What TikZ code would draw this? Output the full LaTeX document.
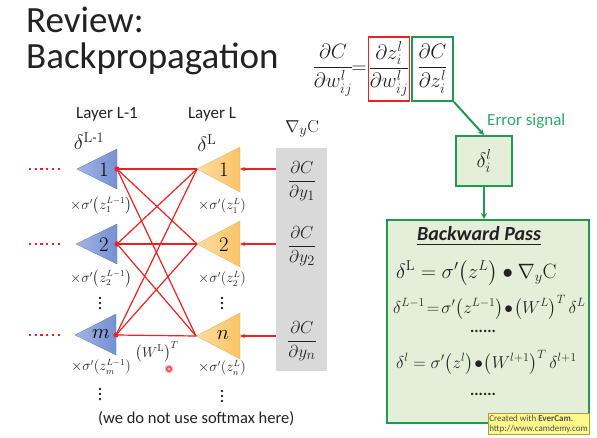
\documentclass[tikz,border=0pt]{standalone}
\usepackage{amsmath}
\usepackage[no-math]{fontspec}
\setmainfont{Carlito}
\usetikzlibrary{arrows.meta}
\definecolor{tblue}{HTML}{7590D2}
\definecolor{tbluel}{HTML}{A3B5E2}
\definecolor{torange}{HTML}{FAC466}
\definecolor{torangel}{HTML}{FEDDA2}
\definecolor{tred}{HTML}{EE2020}
\definecolor{tgreen}{HTML}{1E9A4E}
\definecolor{tgreentxt}{HTML}{2FA86A}
\definecolor{tgreenfill}{HTML}{E3EFD9}
\definecolor{tgray}{HTML}{D9D9D9}
\definecolor{ttext}{HTML}{222222}
\tikzset{
  bluetri/.style={left color=tbluel, right color=tblue, draw=tblue!85!black, line width=0.3pt},
  orangetri/.style={left color=torangel, right color=torange, draw=torange!90!black, line width=0.3pt},
  wire/.style={draw=tred, line width=1.2pt},
  inarrow/.style={draw=tred, line width=1.2pt, -{Stealth[length=5pt,width=4pt]}},
  reddots/.style={draw=tred, line width=2.3pt, dash pattern=on 2.3pt off 3.4pt},
  sig/.style={font=\fontsize{13.5}{15}\selectfont, text=ttext, inner sep=0pt},
  vdot/.style={fill=ttext},
  num/.style={font=\fontsize{22}{22}\selectfont, text=black, inner sep=0pt},
  layerlbl/.style={font=\fontsize{17}{17}\selectfont, text=ttext, inner sep=0pt},
  greenarrow/.style={draw=tgreen, line width=2pt, -{Stealth[length=6pt,width=6pt]}},
  eq/.style={font=\fontsize{19}{22}\selectfont, text=ttext, inner sep=0pt, anchor=west},
}
\begin{document}
\begin{tikzpicture}[x=1pt,y=-1pt]
\useasboundingbox (0,0) rectangle (597,438);
\fill[white] (0,0) rectangle (597,438);

% Title
\node[anchor=base west, inner sep=0pt, font=\fontsize{37}{37}\selectfont, text=ttext] (t1) at (26,33) {Review:};
\node[anchor=base west, inner sep=0pt, font=\fontsize{37}{37}\selectfont, text=ttext] (t2) at (26,69) {Backpropagation};

% Top equation
\node[inner sep=0pt, font=\fontsize{20}{24}\selectfont, text=ttext] (dcdw) at (333,70) {$\dfrac{\partial C}{\partial w_{ij}^{l}}$};
\node[inner sep=0pt, font=\fontsize{20}{24}\selectfont, text=ttext] (eqs) at (359,70) {$=$};
\node[draw=tred, line width=1.5pt, minimum width=38pt, minimum height=64pt, inner sep=0pt, font=\fontsize{20}{24}\selectfont, text=ttext] (redbox) at (389,69) {$\dfrac{\partial z_i^{l}}{\partial w_{ij}^{l}}$};
\node[draw=tgreen, line width=1.8pt, minimum width=41pt, minimum height=64pt, inner sep=0pt, font=\fontsize{20}{24}\selectfont, text=ttext] (greenbox) at (432.5,69) {$\dfrac{\partial C}{\partial z_i^{l}}$};

% Error signal box
\node[draw=tgreen, line width=2pt, fill=tgreenfill, minimum width=56pt, minimum height=50pt, inner sep=0pt, font=\fontsize{22}{22}\selectfont, text=ttext] (delta) at (484,161) {$\delta_i^{l}$};
\draw[greenarrow] (greenbox.south east) -- (delta.north);
\node[anchor=west, inner sep=0pt, font=\fontsize{17}{17}\selectfont, text=tgreentxt] (errsig) at (487,121) {Error signal};

% Backward pass box
\node[draw=tgreen, line width=2pt, fill=tgreenfill, minimum width=202pt, minimum height=203pt, inner sep=0pt] (bp) at (488,321.5) {};
\draw[greenarrow] (delta.south) -- (delta.south |- bp.north);
\node[inner sep=0pt, font=\fontsize{20}{20}\selectfont\bfseries\itshape, text=ttext] (bptitle) at (479,236) {\underline{Backward Pass}};
\node[eq, font=\fontsize{20}{22}\selectfont] (e1) at (396,273) {$\delta^{\mathrm{L}} = \sigma'\!\left(z^{L}\right)\bullet\nabla_{y}\mathrm{C}$};
\node[eq, font=\fontsize{18}{22}\selectfont] (e2) at (393,307) {$\delta^{L-1} \!=\! \sigma'\!\left(z^{L-1}\right)\!\bullet\!\left(W^{L}\right)^{T}\delta^{L}$};
\node[inner sep=0pt, font=\fontsize{16}{16}\selectfont\bfseries, text=ttext] (d1) at (483,331) {......};
\node[eq, font=\fontsize{18.5}{22}\selectfont] (e3) at (396,362) {$\delta^{l} = \sigma'\!\left(z^{l}\right)\!\bullet\!\left(W^{l+1}\right)^{T}\delta^{l+1}$};
\node[inner sep=0pt, font=\fontsize{16}{16}\selectfont\bfseries, text=ttext] (d2) at (483,394) {......};

% Watermark
\node[fill=yellow!45, draw=yellow!60!black, line width=0.4pt, inner sep=1.5pt, align=left, font=\fontsize{9}{10}\selectfont, text=black!70] (wm) at (538.5,424) {Created with \textbf{EverCam.}\\http://www.camdemy.com};

% Gray column
\node[fill=tgray, minimum width=51pt, minimum height=223pt, inner sep=0pt] (gbox) at (301.5,259.5) {};
\node[inner sep=0pt, font=\fontsize{19}{19}\selectfont, text=ttext] (nabla) at (302,129) {$\nabla_{y}\mathrm{C}$};
\node[inner sep=0pt, font=\fontsize{19}{22}\selectfont, text=ttext] (gy1) at (302,181) {$\dfrac{\partial C}{\partial y_{1}}$};
\node[inner sep=0pt, font=\fontsize{19}{22}\selectfont, text=ttext] (gy2) at (302,246) {$\dfrac{\partial C}{\partial y_{2}}$};
\node[inner sep=0pt, font=\fontsize{19}{22}\selectfont, text=ttext] (gyn) at (302,341) {$\dfrac{\partial C}{\partial y_{n}}$};

% Layer labels
\node[layerlbl] (ll1) at (107,114) {Layer L-1};
\node[layerlbl] (ll) at (212,114) {Layer L};
\node[inner sep=0pt, font=\fontsize{20}{20}\selectfont, text=ttext] (dl1) at (89,141) {$\delta^{\mathrm{L\text{-}1}}$};
\node[inner sep=0pt, font=\fontsize{20}{20}\selectfont, text=ttext] (dl) at (207,143) {$\delta^{\mathrm{L}}$};

% Triangles
\draw[bluetri] (77,169) -- (117,149) -- (117,189) -- cycle;
\draw[bluetri] (76,244) -- (117,224) -- (117,264) -- cycle;
\draw[bluetri] (75,335) -- (116,314) -- (116,355) -- cycle;
\draw[orangetri] (197,169) -- (240,147) -- (240,192) -- cycle;
\draw[orangetri] (197,244) -- (240,221) -- (240,267) -- cycle;
\draw[orangetri] (196,336) -- (240,313) -- (240,359) -- cycle;
\coordinate (b1) at (117,169);
\coordinate (b2) at (117,244);
\coordinate (bm) at (116,335);
\coordinate (o1) at (197,169);
\coordinate (o2) at (197,244);
\coordinate (on) at (196,336);
\coordinate (ob1) at (240,169);
\coordinate (ob2) at (240,244);
\coordinate (obn) at (240,336);
\node[num] (n1b) at (104,170) {$1$};
\node[num] (n2b) at (104,245) {$2$};
\node[num] (nmb) at (101,334) {$m$};
\node[num] (n1o) at (224,170) {$1$};
\node[num] (n2o) at (224,245) {$2$};
\node[num] (nno) at (223,335) {$n$};

% Wires
\foreach \o in {o1,o2,on}{
  \foreach \b in {b1,b2,bm}{
    \draw[wire] (\o) -- (\b);
  }
}
\foreach \b in {b1,b2,bm}{ \fill[tred] (\b) circle (2.6); }

% Input arrows
\draw[inarrow] (gbox.west |- ob1) -- (ob1);
\draw[inarrow] (gbox.west |- ob2) -- (ob2);
\draw[inarrow] (gbox.west |- obn) -- (obn);

% Red dots on the left
\coordinate (r1) at (29,169); \coordinate (r1e) at (62,169);
\coordinate (r2) at (29,244); \coordinate (r2e) at (62,244);
\coordinate (r3) at (29,335); \coordinate (r3e) at (62,335);
\draw[reddots] (r1) -- (r1e);
\draw[reddots] (r2) -- (r2e);
\draw[reddots] (r3) -- (r3e);

% sigma labels
\node[sig] (s1b) at (101,206) {$\times\sigma'\!\left(z_{1}^{L-1}\right)$};
\node[sig] (s1o) at (222,206) {$\times\sigma'\!\left(z_{1}^{L}\right)$};
\node[sig] (s2b) at (101,279) {$\times\sigma'\!\left(z_{2}^{L-1}\right)$};
\node[sig] (s2o) at (222,279) {$\times\sigma'\!\left(z_{2}^{L}\right)$};
\node[sig] (smb) at (101,367) {$\times\sigma'\!\left(z_{m}^{L-1}\right)$};
\node[sig] (sno) at (222,368) {$\times\sigma'\!\left(z_{n}^{L}\right)$};
% vertical dots
\foreach \x/\y in {100/303, 222/303, 100/394, 222/396}{
  \foreach \k in {-5,0,5}{ \fill[vdot] (\x,\y+\k) circle (1.3); }
}

\node[inner sep=0pt, font=\fontsize{14}{14}\selectfont, text=ttext] (wlt) at (157,352) {$\left(W^{\mathrm{L}}\right)^{T}$};
% cursor
\fill[tred!30] (169,369) circle (4.5);
\draw[tred, line width=1pt] (169,369) circle (2.3);

\node[inner sep=0pt, anchor=west, font=\fontsize{16.5}{16.5}\selectfont, text=ttext] (note) at (98,419) {(we do not use softmax here)};
\end{tikzpicture}
\end{document}
